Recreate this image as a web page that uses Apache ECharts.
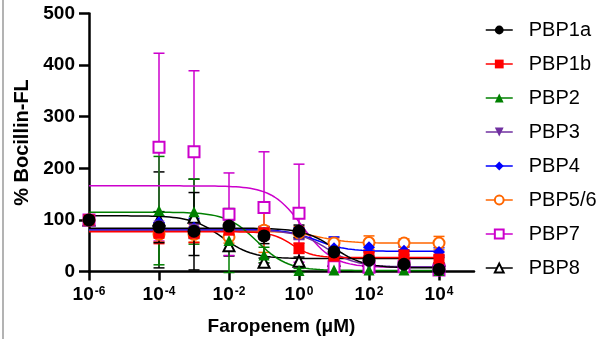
<!DOCTYPE html>
<html>
<head>
<meta charset="utf-8">
<script src="https://cdn.jsdelivr.net/npm/echarts@6/dist/echarts.min.js"></script>
<style>
  html, body { margin: 0; padding: 0; background: #fff; }
  #chart { width: 611px; height: 347px; }
</style>
</head>
<body>
<div id="chart"></div>
<script>
// faropenem concentrations (uM); 1e-6 is the no-drug point
const concentrations = [1e-6, 1e-4, 1e-3, 1e-2, 1e-1, 1, 10, 100, 1000, 1e4];
const xTicks = [-6, -4, -2, 0, 2, 4];

const names = ['PBP1a', 'PBP1b', 'PBP2', 'PBP3', 'PBP4', 'PBP5/6', 'PBP7', 'PBP8'];
const colors = ['#000000', '#ff0000', '#008000', '#7030a0', '#0000ff', '#ff6600', '#cc00cc', '#000000'];
const symbols = ['circle', 'rect', 'triangle', 'triangle', 'diamond', 'emptyCircle', 'emptyRect', 'emptyTriangle'];

// % Bocillin-FL, mean and SD per concentration
const pbp1a = [100, 86, 78, 88, 69, 78, 38, 22, 14, 4];
const pbp1aSd = [0, 30, 75, 20, 15, 12, 10, 8, 6, 5];
const pbp1b = [100, 74, 74, 80, 75, 45, 30, 29, 32, 24];
const pbp1bSd = [0, 20, 18, 15, 12, 10, 8, 8, 10, 8];
const pbp2 = [100, 118, 116, 60, 32, 2, 3, 3, 3, 2];
const pbp2Sd = [0, 105, 63, 62, 15, 4, 3, 3, 3, 2];
const pbp3 = [100, 88, 82, 85, 75, 72, 30, 12, 10, 6];
const pbp3Sd = [0, 20, 18, 15, 12, 10, 8, 6, 5, 4];
const pbp4 = [100, 95, 85, 85, 75, 75, 45, 47, 40, 38];
const pbp4Sd = [0, 20, 18, 15, 12, 10, 22, 8, 8, 8];
const pbp56 = [100, 72, 72, 67, 80, 75, 55, 56, 55, 55];
const pbp56Sd = [0, 15, 15, 12, 43, 12, 10, 13, 8, 13];
const pbp7 = [100, 241, 232, 111, 124, 113, 9, 8, 9, 3];
const pbp7Sd = [0, 182, 157, 80, 108, 95, 5, 4, 4, 3];
const pbp8 = [100, 100, 105, 50, 18, 20, 22, 22, 22, 22];
const pbp8Sd = [0, 93, 74, 20, 8, 8, 5, 5, 5, 5];

// fitted dose-response curves (top, bottom, log IC50, hill)
const fitTop = [84, 77, 115, 80, 82, 78, 166, 108];
const fitBottom = [7, 27, 2, 9, 39, 55, 8, 25];
const fitLogIC50 = [1.0, -0.2, -1.2, 0.8, 0.5, 0.6, 0.1, -2.2];
const fitHill = [1, 1.5, 1, 1, 1, 1, 1, 1];

const means = [pbp1a, pbp1b, pbp2, pbp3, pbp4, pbp56, pbp7, pbp8];
const sds = [pbp1aSd, pbp1bSd, pbp2Sd, pbp3Sd, pbp4Sd, pbp56Sd, pbp7Sd, pbp8Sd];

const logX = concentrations.map((c) => Math.log10(c));
const font = 'Liberation Sans, Arial, Helvetica, sans-serif';

const curvePoints = (i) => {
  const pts = [];
  for (let k = 0; k <= 200; k++) {
    const x = -6 + k * 0.05;
    const y = fitBottom[i] + (fitTop[i] - fitBottom[i]) / (1 + Math.pow(10, (x - fitLogIC50[i]) * fitHill[i]));
    pts.push([x, y]);
  }
  return pts;
};

const errorSeries = (i) => ({
  name: names[i] + ' err',
  type: 'custom',
  z: 1,
  clip: false,
  silent: true,
  data: logX.map((x, k) => [x, means[i][k] - sds[i][k], means[i][k] + sds[i][k]]).filter((d, k) => sds[i][k] > 0),
  renderItem: function (params, api) {
    const lo = api.coord([api.value(0), api.value(1)]);
    const hi = api.coord([api.value(0), api.value(2)]);
    const w = 5.5;
    const style = { stroke: colors[i], lineWidth: 1.5 };
    return {
      type: 'group',
      children: [
        { type: 'line', shape: { x1: lo[0], y1: lo[1], x2: hi[0], y2: hi[1] }, style: style },
        { type: 'line', shape: { x1: hi[0] - w, y1: hi[1], x2: hi[0] + w, y2: hi[1] }, style: style },
        { type: 'line', shape: { x1: lo[0] - w, y1: lo[1], x2: lo[0] + w, y2: lo[1] }, style: style }
      ]
    };
  }
});

const curveSeries = (i) => ({
  name: names[i] + ' fit',
  type: 'line',
  z: 2,
  silent: true,
  showSymbol: false,
  symbol: 'none',
  clip: false,
  lineStyle: { color: colors[i], width: 1.5 },
  data: curvePoints(i)
});

const pointSeries = (i) => ({
  name: names[i],
  type: 'line',
  z: 3,
  clip: false,
  symbol: symbols[i],
  symbolRotate: i === 3 ? 180 : 0,
  symbolSize: symbols[i] === 'circle' ? 13 : (symbols[i] === 'diamond' ? 12 : 11),
  showAllSymbol: true,
  lineStyle: { width: 0 },
  itemStyle: { color: colors[i], borderWidth: symbols[i].indexOf('empty') === 0 ? 2 : 0 },
  data: logX.map((x, k) => [x, means[i][k]])
});

// draw PBP8 first so PBP1a ends up on top
const series = [];
for (let i = names.length - 1; i >= 0; i--) {
  series.push(errorSeries(i));
  series.push(curveSeries(i));
}
for (let i = names.length - 1; i >= 0; i--) {
  series.push(pointSeries(i));
}

const chart = echarts.init(document.getElementById('chart'), null, { renderer: 'canvas' });
chart.setOption({
  animation: false,
  color: colors,
  textStyle: { fontFamily: font },
  grid: { left: 89, right: 137, top: 13.5, bottom: 75.5, containLabel: false, outerBoundsMode: 'none' },
  legend: {
    orient: 'vertical',
    left: 485,
    top: 20,
    padding: 0,
    itemWidth: 27,
    itemHeight: 11,
    itemGap: 14,
    selectedMode: false,
    data: names,
    lineStyle: { width: 1.5 },
    textStyle: { fontSize: 20, color: '#000', fontFamily: font, padding: [0, 0, 0, 11] }
  },
  xAxis: {
    type: 'value',
    min: -6,
    max: 5,
    name: 'Faropenem (μM)',
    nameLocation: 'middle',
    nameGap: 46,
    nameTextStyle: { fontSize: 19, fontWeight: 'bold', color: '#000', fontFamily: font },
    axisLine: { show: true, onZero: false, lineStyle: { color: '#000', width: 2.5 } },
    axisTick: { show: true, inside: false, length: 9, customValues: xTicks, lineStyle: { color: '#000', width: 2.5 } },
    axisLabel: {
      show: true,
      margin: 14,
      customValues: xTicks,
      formatter: (v) => '{b|10}{s|' + v + '}',
      rich: {
        b: { fontSize: 19, fontWeight: 'bold', color: '#000', fontFamily: font },
        s: { fontSize: 12, fontWeight: 'bold', color: '#000', fontFamily: font, verticalAlign: 'top', padding: [0, 0, 0, 1] }
      }
    },
    splitLine: { show: false }
  },
  yAxis: {
    type: 'value',
    min: 0,
    max: 500,
    interval: 100,
    name: '% Bocillin-FL',
    nameLocation: 'middle',
    nameGap: 47,
    nameTextStyle: { fontSize: 20, fontWeight: 'bold', color: '#000', fontFamily: font },
    axisLine: { show: true, onZero: false, lineStyle: { color: '#000', width: 2.5 } },
    axisTick: { show: true, inside: false, length: 10, lineStyle: { color: '#000', width: 2.5 } },
    axisLabel: { margin: 14, fontSize: 19, fontWeight: 'bold', color: '#000', fontFamily: font },
    splitLine: { show: false }
  },
  graphic: [
    { type: 'line', shape: { x1: 3, y1: 0, x2: 3, y2: 339 }, style: { stroke: '#9a9a9a', lineWidth: 1.5 } }
  ],
  series: series
});
</script>
</body>
</html>
